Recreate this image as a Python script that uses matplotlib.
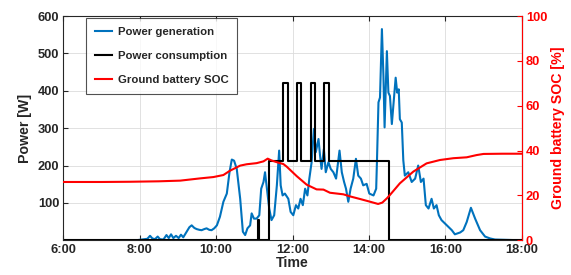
import matplotlib
matplotlib.use('Agg')
import matplotlib.pyplot as plt
import numpy as np

# 发电功率 (蓝线)
gen_time = [6.0, 7.0, 7.9, 8.05, 8.2, 8.27, 8.33, 8.4, 8.47, 8.53, 8.62, 8.7, 8.76, 8.82, 8.88,
            8.95, 9.02, 9.08, 9.14, 9.23, 9.3, 9.36, 9.43, 9.49, 9.56, 9.62, 9.69, 9.75, 9.82,
            9.88, 9.95, 10.02, 10.10, 10.19, 10.28, 10.35, 10.41, 10.47, 10.54, 10.63, 10.70,
            10.76, 10.82, 10.89, 10.93, 10.99, 11.06, 11.13, 11.18, 11.24, 11.28, 11.32, 11.39,
            11.45, 11.52, 11.59, 11.65, 11.69, 11.74, 11.80, 11.89, 11.95, 12.02, 12.09, 12.15,
            12.21, 12.27, 12.33, 12.39, 12.44, 12.50, 12.56, 12.61, 12.68, 12.72, 12.76, 12.82,
            12.87, 12.94, 13.00, 13.07, 13.14, 13.23, 13.29, 13.35, 13.40, 13.46, 13.52, 13.59,
            13.66, 13.72, 13.79, 13.85, 13.94, 14.01, 14.12, 14.19, 14.21, 14.25, 14.29, 14.34,
            14.38, 14.41, 14.47, 14.51, 14.55, 14.60, 14.66, 14.70, 14.74, 14.78, 14.81, 14.86,
            14.90, 14.94, 15.03, 15.12, 15.21, 15.29, 15.36, 15.43, 15.49, 15.56, 15.64, 15.70,
            15.77, 15.83, 15.90, 16.04, 16.17, 16.25, 16.39, 16.47, 16.56, 16.67, 16.78, 16.91,
            17.04, 17.17, 17.3, 18.0]
gen_power = [0, 0, 0, 2, 4, 12, 5, 3, 10, 3, 2, 14, 6, 16, 6,
             12, 6, 15, 8, 23, 35, 40, 33, 30, 28, 27, 30, 32, 28,
             27, 32, 40, 63, 103, 125, 182, 216, 213, 191, 111, 23,
             14, 32, 40, 72, 58, 58, 67, 138, 156, 182, 147, 85,
             54, 67, 147, 240, 147, 120, 125, 111, 76, 67, 94, 85,
             111, 94, 138, 120, 165, 209, 298, 236, 271, 227, 191, 244,
             182, 209, 191, 182, 165, 240, 182, 156, 138, 103, 138, 165,
             218, 173, 165, 147, 151, 125, 120, 138, 210, 369, 382, 565,
             439, 302, 506, 395, 386, 311, 386, 435, 395, 404, 324, 315,
             214, 173, 182, 156, 165, 200, 156, 165, 94, 85, 111, 85,
             94, 67, 54, 40, 27, 16, 21, 27, 49, 87, 58, 27,
             10, 5, 2, 0]

# 用电功率 (黑线, 阶梯)
load_time = [6.0, 11.10, 11.13, 11.39, 11.743, 11.874, 12.110, 12.222, 12.476, 12.589,
             12.832, 12.963, 14.53, 18.0]
load_power = [0, 53, 0, 212, 422, 212, 422, 212, 422, 212, 422, 212, 0, 0]

# 地面电池SOC (红线)
soc_time = [6.0, 7.0, 7.75, 8.5, 9.06, 9.58, 9.93, 10.19, 10.36, 10.63, 10.8, 11.06, 11.24,
            11.35, 11.45, 11.63, 11.76, 11.85, 12.11, 12.37, 12.63, 12.81, 12.98, 13.33,
            13.5, 13.77, 14.03, 14.24, 14.35, 14.47, 14.55, 14.81, 15.16, 15.51, 15.86,
            16.21, 16.56, 16.82, 17.0, 17.5, 18.0]
soc = [26.0, 26.0, 26.1, 26.3, 26.6, 27.6, 28.2, 29.1, 31.0, 33.3, 33.9, 34.4, 35.2,
       36.4, 35.6, 34.6, 34.0, 32.8, 28.6, 24.8, 22.7, 22.6, 21.2, 20.5,
       19.6, 18.4, 17.2, 16.2, 16.8, 18.7, 20.2, 25.4, 30.6, 34.3, 35.8,
       36.6, 37.0, 38.0, 38.5, 38.6, 38.6]

x_ticks = [6, 8, 10, 12, 14, 16, 18]
x_tick_labels = ['6:00', '8:00', '10:00', '12:00', '14:00', '16:00', '18:00']

plt.rcParams['font.family'] = ['Liberation Sans', 'DejaVu Sans']
plt.rcParams['font.weight'] = 'bold'

dark = '#262626'
blue = '#0072BD'
red = '#FF0000'

fig = plt.figure(figsize=(5.71, 2.75), dpi=100)
ax = fig.add_axes([0.1109, 0.1262, 0.8028, 0.8156])

l1, = ax.plot(gen_time, gen_power, color=blue, linewidth=1.5, label='Power generation')
l2, = ax.plot(load_time, load_power, color='black', linewidth=1.5, drawstyle='steps-post',
              label='Power consumption')

ax.set_xlim(6, 18)
ax.set_ylim(0, 600)
ax.set_xticks(x_ticks)
ax.set_xticklabels(x_tick_labels)
ax.set_yticks([100, 200, 300, 400, 500, 600])
ax.grid(True, color='#dcdcdc', linewidth=0.6)
ax.set_axisbelow(True)
ax.set_xlabel('Time', fontsize=10.2, fontweight='bold', color=dark, labelpad=0)
ax.set_ylabel('Power [W]', fontsize=10.2, fontweight='bold', color=dark, labelpad=4)
ax.tick_params(axis='both', direction='in', length=3.5, labelsize=9.3, colors=dark,
               top=True, width=0.8, pad=3)
for s in ['left', 'bottom', 'top']:
    ax.spines[s].set_color(dark)
    ax.spines[s].set_linewidth(0.8)

# 右轴 SOC
ax2 = ax.twinx()
l3, = ax2.plot(soc_time, soc, color=red, linewidth=1.5, label='Ground battery SOC')
ax2.set_ylim(0, 100)
ax2.set_yticks([0, 20, 40, 60, 80, 100])
ax2.tick_params(axis='y', direction='in', length=3.5, labelsize=9.3, colors=red,
                width=0.8, pad=3)
ax2.spines['right'].set_color(red)
ax2.spines['right'].set_linewidth(0.8)
ax2.spines['left'].set_visible(False)
ax2.spines['top'].set_visible(False)
ax2.spines['bottom'].set_visible(False)
ax2.set_ylabel('Ground battery SOC [%]', fontsize=10.2, fontweight='bold', color=red, labelpad=3)

leg = ax2.legend(handles=[l1, l2, l3], loc='upper left', bbox_to_anchor=(0.05, 0.99),
                 fontsize=8.2, frameon=True, fancybox=False, handlelength=1.5,
                 handletextpad=0.5, labelspacing=1.25, borderpad=0.75, borderaxespad=0)
leg.get_frame().set_edgecolor(dark)
leg.get_frame().set_linewidth(0.8)
for t in leg.get_texts():
    t.set_color(dark)

plt.savefig('out.png', dpi=100)
